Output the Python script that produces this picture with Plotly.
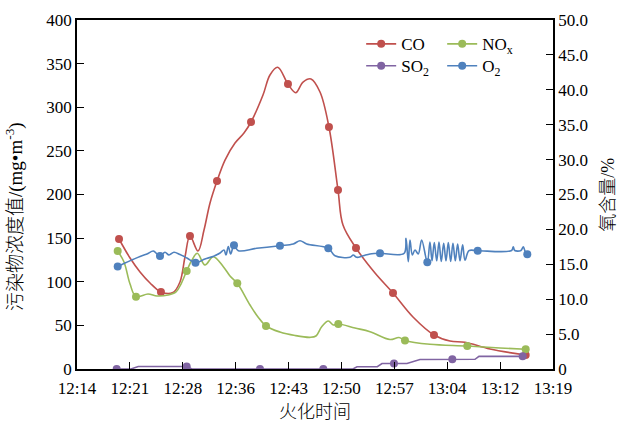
import pandas as pd
import plotly.graph_objects as go

# ---- data: time in minutes after 12:00, concentrations in mg/m3, O2 in % ----
co_t = [20.12, 21.62, 22.98, 24.34, 25.83, 27.47, 28.42, 29.10, 29.78, 30.87,
        31.69, 32.51, 33.46, 34.55, 35.91, 37.13, 38.09, 39.72, 40.67, 41.72,
        43.12, 44.17, 45.17, 46.25, 47.48, 48.70, 49.93, 50.61, 52.38, 54.97,
        57.42, 60.14, 63.00, 65.18, 67.22, 70.62, 75.48]
co_v = [149.0, 127.2, 111.2, 98.6, 88.3, 87.7, 99.7, 128.4, 152.4, 135.2,
        159.3, 190.3, 215.5, 239.5, 259.0, 270.5, 283.1, 314.0, 337.0, 345.8,
        326.6, 316.7, 328.9, 332.4, 317.5, 277.4, 205.2, 165.0, 138.7, 110.0,
        87.1, 59.6, 39.0, 32.1, 30.6, 22.9, 16.0]
co_mark_t = [20.12, 25.83, 29.78, 33.46, 38.09, 43.12, 48.70, 49.93, 52.38,
             57.42, 63.00, 75.48]

nox_t = [19.94, 20.80, 21.62, 22.43, 24.07, 25.29, 26.79, 27.88, 28.56, 29.33,
         30.05, 30.78, 31.82, 32.95, 34.32, 35.23, 36.22, 37.95, 39.04, 40.13,
         42.03, 44.08, 46.12, 46.93, 47.71, 48.61, 49.29, 49.97, 52.24, 54.29,
         57.01, 58.23, 59.05, 62.45, 67.53, 71.98, 75.48]
nox_v = [135.2, 122.6, 97.4, 82.9, 86.0, 83.7, 84.8, 88.3, 97.4, 112.3,
         124.9, 132.6, 119.2, 128.7, 117.3, 106.6, 98.2, 73.4, 59.6, 49.3,
         42.4, 38.4, 36.3, 37.8, 48.5, 55.0, 50.4, 51.6, 47.0, 42.8,
         33.8, 36.1, 32.7, 28.3, 26.4, 24.1, 22.6]
nox_mark_t = [19.94, 22.43, 29.33, 36.22, 40.13, 49.97, 59.05, 67.53, 75.48]

so2_t = [19.80, 21.75, 22.74, 28.87, 29.33, 30.05, 39.31, 47.93, 51.97, 52.52,
         55.28, 55.92, 57.55, 59.32, 61.09, 65.49, 68.58, 69.12, 75.07]
so2_v = [0.0, 0.0, 2.9, 2.9, 2.9, 0.0, 0.0, 0.0, 0.0, 2.6,
         2.6, 6.3, 6.3, 6.3, 10.9, 11.1, 11.1, 14.5, 14.5]
so2_mark_t = [19.80, 29.33, 39.31, 47.93, 57.55, 65.49, 75.07]

o2_t = [19.94, 20.93, 22.02, 22.98, 23.93, 24.79, 25.29, 25.70, 26.38, 26.92,
        27.60, 28.42, 29.37, 30.53, 31.82, 32.91, 33.87, 34.41, 34.68, 35.00,
        35.32, 35.77, 36.36, 38.86, 42.03, 43.84, 44.76, 45.67, 48.61, 49.52,
        51.56, 52.01, 52.48, 53.37, 54.29, 55.65, 58.91, 59.19, 59.50, 59.73,
        60.05, 60.41, 60.86, 61.32, 62.09, 62.45, 62.73, 63.04, 63.37, 63.68,
        63.99, 64.32, 64.63, 64.95, 65.27, 65.58, 65.90, 66.22, 66.54, 66.90,
        67.22, 67.76, 68.95, 73.57, 73.79, 73.99, 74.84, 75.16, 75.39, 75.70]
o2_v = [14.68, 15.19, 15.69, 16.12, 16.48, 16.91, 16.48, 16.19, 16.72, 16.33,
        16.72, 16.40, 15.90, 15.23, 15.76, 16.12, 16.62, 17.05, 16.33, 17.55,
        16.48, 17.72, 16.95, 17.29, 17.66, 17.91, 18.38, 17.91, 17.29, 16.23,
        16.00, 16.33, 16.00, 16.23, 16.48, 16.58, 16.55, 18.72, 15.37, 18.48,
        16.33, 17.05, 16.48, 18.48, 15.29, 18.20, 15.50, 18.10, 15.50, 18.20,
        15.40, 18.00, 15.50, 18.10, 15.40, 18.00, 15.50, 17.90, 15.50, 17.80,
        15.60, 16.95, 16.95, 16.98, 17.52, 16.98, 16.98, 17.52, 16.90, 16.43]
o2_mark_t = [19.94, 25.70, 30.53, 35.77, 42.03, 48.61, 55.65, 62.09, 68.95, 75.70]

x_start, x_step, n_ticks = 14.4, 7.2, 10      # axis: 12:14:24 + k * 7.2 min
y_left_ticks = list(range(0, 401, 50))
y_right_ticks = list(range(0, 51, 5))
y_right_text = ["0"] + [f"{v:.1f}" for v in y_right_ticks[1:]]

BASE = pd.Timestamp("2021-01-01 12:00:00")


def clock(minutes):
    return [BASE + pd.Timedelta(minutes=m) for m in minutes]


def picks(ts, vs, mark_t):
    idx = [ts.index(m) for m in mark_t]
    return [ts[i] for i in idx], [vs[i] for i in idx]


SERIF = "Liberation Serif"
CJK = "Liberation Serif, Noto Sans CJK SC"

series = [
    ("CO", co_t, co_v, co_mark_t, "#C0504D", "y", "spline", "legend"),
    ("NO<sub>x</sub>", nox_t, nox_v, nox_mark_t, "#9BBB59", "y", "spline", "legend"),
    ("SO<sub>2</sub>", so2_t, so2_v, so2_mark_t, "#8064A2", "y", "linear", "legend2"),
    ("O<sub>2</sub>", o2_t, o2_v, o2_mark_t, "#4F81BD", "y2", "spline", "legend2"),
]

fig = go.Figure()
for name, ts, vs, mk, color, yax, shape, leg in series:
    fig.add_trace(go.Scatter(
        x=clock(ts), y=vs, mode="lines", yaxis=yax, showlegend=False,
        line=dict(color=color, width=1.6, shape=shape, smoothing=1.0),
        hoverinfo="skip"))
    mx, my = picks(ts, vs, mk)
    fig.add_trace(go.Scatter(
        x=clock(mx), y=my, mode="markers", yaxis=yax, showlegend=False,
        marker=dict(color=color, size=8), hoverinfo="skip"))
    fig.add_trace(go.Scatter(
        x=[None], y=[None], mode="lines+markers", name=name, legend=leg,
        yaxis=yax, line=dict(color=color, width=1.6),
        marker=dict(color=color, size=8)))

tick_minutes = [x_start + k * x_step for k in range(n_ticks)]

axis_common = dict(showline=True, linecolor="black", linewidth=1.5,
                   ticks="inside", ticklen=7, tickcolor="black", tickwidth=1,
                   showgrid=False, zeroline=False,
                   tickfont=dict(family=SERIF, size=17, color="black"))

legend_common = dict(orientation="h", xanchor="left", yanchor="top",
                     entrywidth=36, entrywidthmode="pixels",
                     bgcolor="rgba(0,0,0,0)",
                     font=dict(family=SERIF, size=17, color="black"))

title_font = dict(family=CJK, size=18, color="black", weight=300)

fig.update_layout(
    width=621, height=422,
    margin=dict(l=77, r=68, t=20, b=53),
    paper_bgcolor="white", plot_bgcolor="white",
    xaxis=dict(type="date", range=clock([tick_minutes[0], tick_minutes[-1]]),
               tickvals=clock(tick_minutes), tickformat="%H:%M",
               mirror=True, ticklabelstandoff=3, **axis_common),
    yaxis=dict(range=[0, 400], tickvals=y_left_ticks, **axis_common),
    yaxis2=dict(range=[0, 50], tickvals=y_right_ticks, ticktext=y_right_text,
                overlaying="y", side="right", **axis_common),
    legend=dict(x=0.597, y=0.982, **legend_common),
    legend2=dict(x=0.597, y=0.919, **legend_common),
    annotations=[
        dict(text="污染物浓度值/(mg•m<sup>-3</sup>)", xref="paper", yref="paper",
             x=-0.1324, y=0.438, textangle=-90, showarrow=False,
             xanchor="center", yanchor="middle",
             font=dict(title_font, size=19)),
        dict(text="氧含量/%", xref="paper", yref="paper",
             x=1.114, y=0.50, textangle=-90, showarrow=False,
             xanchor="center", yanchor="middle", font=title_font),
        dict(text="火化时间", xref="paper", yref="paper",
             x=0.5, y=-0.123, showarrow=False,
             xanchor="center", yanchor="middle", font=title_font),
    ],
)

fig.write_html("out.html")
